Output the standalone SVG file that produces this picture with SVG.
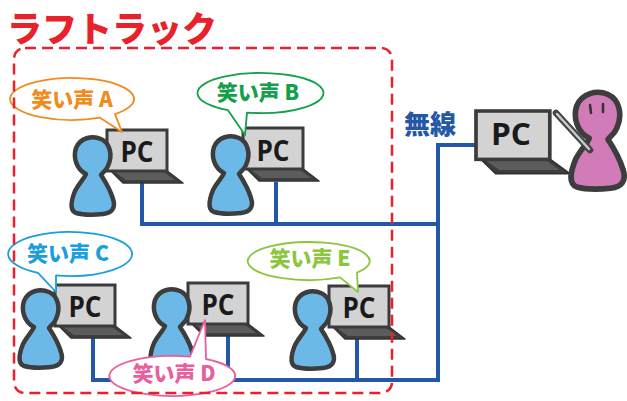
<svg xmlns="http://www.w3.org/2000/svg" xmlns:xlink="http://www.w3.org/1999/xlink" width="627" height="401" viewBox="0 0 627 401">
  <style>
    .jp { font-family: "Noto Sans CJK JP", "Noto Sans", sans-serif; font-weight: 900; }
    .pc { font-family: "Open Sans", "Liberation Sans", sans-serif; font-weight: 700; fill: #1a1a1a; text-anchor: middle; }
    .bubble { fill: #ffffff; stroke-width: 1.8; stroke-linejoin: round; }
    .label { font-size: 21px; text-anchor: middle; }
    .wire { fill: none; stroke: #2457a7; stroke-width: 4; stroke-linejoin: miter; }
    .person { stroke: #3d3d3d; stroke-width: 4.5; stroke-linejoin: round; }
  </style>
  <defs>
    <!-- laptop: screen at origin, keyboard base slanting right -->
    <g id="laptop">
      <polygon points="3,40 59,40 76,53 16,53" fill="#3e3e3e" stroke="#333" stroke-width="1.5" stroke-linejoin="round"/>
      <polygon points="8,42 57,42 68,50 19,50" fill="#5c5c5c"/>
      <rect x="0" y="0" width="60" height="41" fill="#d3d3d3" stroke="#3b3b3b" stroke-width="3"/>
    </g>
    <!-- person silhouette, origin at head centre -->
    <path id="figure" d="M -7,17 C -17,12 -20,0 -17,-9 C -13,-19 -1,-22 8,-18 C 17,-14 20,-2 15,9 C 13,14 9,16 8,18 C 12,24 17,32 20,42 C 23,51 19,56 10,57 C 0,58 -10,58 -17,56 C -24,53 -22,44 -18,34 C -14,26 -9,22 -7,17 Z"/>
  </defs>

  <!-- wiring -->
  <g id="connectors">
    <path class="wire" d="M142,183 V224 H438"/>
    <path class="wire" d="M276,182 V224"/>
    <path class="wire" d="M476,145 H438 V380 H93 V337"/>
    <path class="wire" d="M228,336 V380"/>
    <path class="wire" d="M357,338 V380"/>
  </g>

  <!-- group A -->
  <g id="pc-a">
    <use xlink:href="#laptop" x="107" y="130"/>
    <text class="pc" x="137" y="162" font-size="28" textLength="33" lengthAdjust="spacingAndGlyphs">PC</text>
  </g>
  <g id="user-a">
    <use xlink:href="#figure" class="person" fill="#6cb8e6" transform="translate(93,157)"/>
  </g>

  <!-- group B -->
  <g id="pc-b">
    <use xlink:href="#laptop" x="243" y="128"/>
    <text class="pc" x="273" y="161" font-size="28" textLength="33" lengthAdjust="spacingAndGlyphs">PC</text>
  </g>
  <g id="user-b">
    <use xlink:href="#figure" class="person" fill="#6cb8e6" transform="translate(231,156)"/>
  </g>

  <!-- group C -->
  <g id="pc-c">
    <use xlink:href="#laptop" x="55" y="285"/>
    <text class="pc" x="85" y="317" font-size="28" textLength="33" lengthAdjust="spacingAndGlyphs">PC</text>
  </g>
  <g id="user-c">
    <use xlink:href="#figure" class="person" fill="#6cb8e6" transform="translate(41,310)"/>
  </g>

  <!-- group D -->
  <g id="pc-d">
    <use xlink:href="#laptop" x="188" y="283"/>
    <text class="pc" x="218" y="315" font-size="28" textLength="33" lengthAdjust="spacingAndGlyphs">PC</text>
  </g>
  <g id="user-d">
    <use xlink:href="#figure" class="person" fill="#6cb8e6" transform="translate(172,309)"/>
  </g>

  <!-- group E -->
  <g id="pc-e">
    <use xlink:href="#laptop" x="329" y="286"/>
    <text class="pc" x="359" y="318" font-size="28" textLength="33" lengthAdjust="spacingAndGlyphs">PC</text>
  </g>
  <g id="user-e">
    <use xlink:href="#figure" class="person" fill="#6cb8e6" transform="translate(313,311)"/>
  </g>

  <!-- remote operator -->
  <g id="pc-remote">
    <use xlink:href="#laptop" transform="translate(476,111) scale(1.23,1.18)"/>
    <text class="pc" x="511" y="145" font-size="31" textLength="40" lengthAdjust="spacingAndGlyphs">PC</text>
  </g>
  <g id="operator">
    <use xlink:href="#figure" class="person" fill="#d17bb9" transform="translate(598,117) scale(1.25)"/>
    <path d="M590,105 L591,113 M603,104 L603,112" stroke="#333" stroke-width="2.5" stroke-linecap="round"/>
    <line x1="556" y1="113" x2="590" y2="150" stroke="#444" stroke-width="6.5" stroke-linecap="round"/>
    <line x1="557" y1="114" x2="589" y2="149" stroke="#c9c9c9" stroke-width="2.5" stroke-linecap="round"/>
  </g>
  <g id="wireless-label">
    <text class="jp" x="430" y="134" font-size="26" fill="#2458a6" text-anchor="middle">無線</text>
  </g>

  <!-- speech bubbles -->
  <g id="bubble-a">
    <path class="bubble" stroke="#f08c1e" d="M115,114.1 L122,132 L100,117.7 A62,21 0 1 1 115,114.1 Z"/>
    <text class="jp label" x="72" y="107" fill="#f08c1e">笑い声 A</text>
  </g>
  <g id="bubble-b">
    <path class="bubble" stroke="#12a04a" d="M247,112.6 L245,135 L228,110.2 A63,20 0 1 1 247,112.6 Z"/>
    <text class="jp label" x="258" y="100" fill="#12a04a">笑い声 B</text>
  </g>
  <g id="bubble-c">
    <path class="bubble" stroke="#1a9fdc" d="M56,275.4 L56,292 L38,272.8 A62,22 0 1 1 56,275.4 Z"/>
    <text class="jp label" x="68" y="261" fill="#1a9fdc">笑い声 C</text>
  </g>
  <g id="bubble-d">
    <path class="bubble" stroke="#e85fa0" d="M190,356.7 L205,320 L206,359 A63,20 0 1 1 190,356.7 Z"/>
    <text class="jp label" x="174" y="381" fill="#e85fa0">笑い声 D</text>
  </g>
  <g id="bubble-e">
    <path class="bubble" stroke="#8cc63f" d="M357,272.7 L358,292 L340,277.4 A61,19 0 1 1 357,272.7 Z"/>
    <text class="jp label" x="310" y="266" fill="#8cc63f">笑い声 E</text>
  </g>

  <!-- laugh-track boundary and title -->
  <g id="laugh-track">
    <rect x="14" y="48" width="378" height="345" rx="11" fill="none" stroke="#e8212b" stroke-width="2.5" stroke-dasharray="11 6"/>
    <text class="jp" x="7" y="42" font-size="35" fill="#e8212b">ラフトラック</text>
  </g>
</svg>
